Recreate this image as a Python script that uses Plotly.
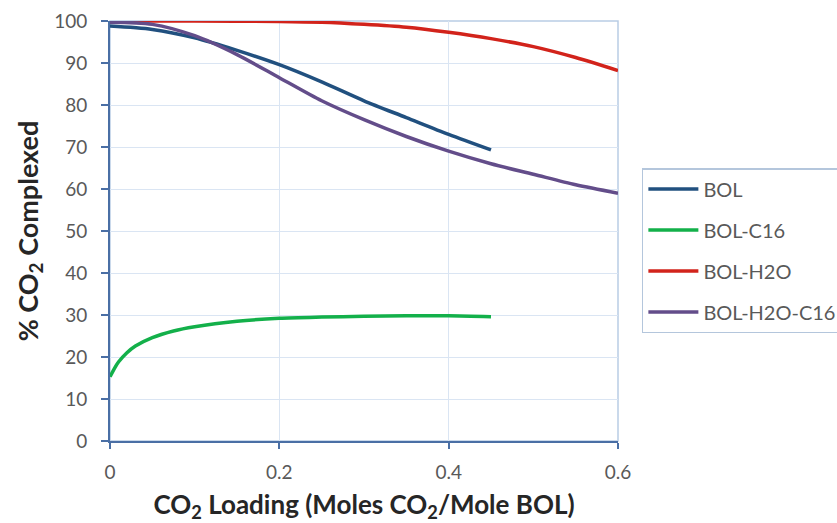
import plotly.graph_objects as go

# CO2 loading (moles CO2 / mole BOL) and % CO2 complexed for each system
bol_x = [0, 0.05, 0.1, 0.15, 0.2, 0.25, 0.3, 0.35, 0.4, 0.45]
bol_y = [98.8, 98.0, 96.0, 93.0, 89.6, 85.5, 81.0, 77.0, 73.0, 69.3]

bol_c16_x = [0, 0.005, 0.01, 0.02, 0.03, 0.05, 0.075, 0.1, 0.15, 0.2, 0.25, 0.3, 0.35, 0.4, 0.45]
bol_c16_y = [15.3, 17.2, 18.8, 21.0, 22.6, 24.6, 26.2, 27.2, 28.5, 29.2, 29.5, 29.7, 29.8, 29.8, 29.6]

bol_h2o_x = [0, 0.1, 0.2, 0.25, 0.3, 0.35, 0.4, 0.45, 0.5, 0.55, 0.6]
bol_h2o_y = [100.0, 100.0, 99.9, 99.7, 99.2, 98.5, 97.3, 95.8, 93.9, 91.3, 88.2]

bol_h2o_c16_x = [0, 0.05, 0.1, 0.15, 0.2, 0.25, 0.3, 0.35, 0.4, 0.45, 0.5, 0.55, 0.6]
bol_h2o_c16_y = [99.7, 99.2, 96.5, 92.0, 86.5, 81.0, 76.5, 72.5, 69.0, 66.0, 63.5, 61.0, 59.0]

x_ticks = [0, 0.2, 0.4, 0.6]
x_tick_text = ["0", "0.2", "0.4", "0.6"]
y_ticks = list(range(0, 101, 10))

series = [
    ("BOL", bol_x, bol_y, "#21507f"),
    ("BOL-C16", bol_c16_x, bol_c16_y, "#13b04a"),
    ("BOL-H2O", bol_h2o_x, bol_h2o_y, "#d2231b"),
    ("BOL-H2O-C16", bol_h2o_c16_x, bol_h2o_c16_y, "#634d8a"),
]

fig = go.Figure()
for name, xs, ys, color in series:
    fig.add_trace(go.Scatter(
        x=xs, y=ys, name=name, mode="lines", legendgroup=name,
        line=dict(color=color, width=3.5, shape="spline", smoothing=0.8),
    ))

font_family = "Lato, 'Liberation Sans', sans-serif"

fig.update_layout(
    width=837, height=523,
    margin=dict(l=110, r=219, t=21, b=82, autoexpand=False),
    paper_bgcolor="white", plot_bgcolor="white",
    font=dict(family=font_family, color="#595959", size=19),
    showlegend=True,
    legend=dict(
        x=1.047, y=0.65, xanchor="left", yanchor="top",
        bordercolor="#b4c6dc", borderwidth=1.5, bgcolor="white",
        font=dict(size=20, color="#595959"),
        itemwidth=50, tracegroupgap=12,
        traceorder="grouped",
    ),
    shapes=[dict(
        type="rect", xref="paper", yref="paper", x0=0, y0=0, x1=1, y1=1,
        line=dict(color="#b9cde5", width=1.5), layer="below",
    )],
)

fig.update_xaxes(
    range=[0, 0.6], tickvals=x_ticks, ticktext=x_tick_text,
    showgrid=True, gridcolor="#dae5f3", gridwidth=1,
    showline=True, linecolor="#4a6fa5", linewidth=2,
    ticks="outside", ticklen=6, tickcolor="#4a6fa5", tickwidth=2,
    ticklabelstandoff=7,
    tickfont=dict(size=19, color="#595959"),
    zeroline=False,
    title=dict(
        text="CO<sub>2</sub> Loading (Moles CO<sub>2</sub>/Mole BOL)",
        font=dict(size=26, color="#262626", family=font_family, weight="bold"),
        standoff=21,
    ),
)
fig.update_yaxes(
    range=[0, 100], tickvals=y_ticks,
    showgrid=True, gridcolor="#dae5f3", gridwidth=1,
    showline=True, linecolor="#4a6fa5", linewidth=2,
    ticks="outside", ticklen=7, tickcolor="#4a6fa5", tickwidth=1.5,
    ticklabelstandoff=10,
    tickfont=dict(size=19, color="#595959"),
    zeroline=False,
    title=dict(
        text="% CO<sub>2</sub> Complexed",
        font=dict(size=27, color="#262626", family=font_family, weight="bold"),
        standoff=8,
    ),
)

fig.write_html("out.html")
